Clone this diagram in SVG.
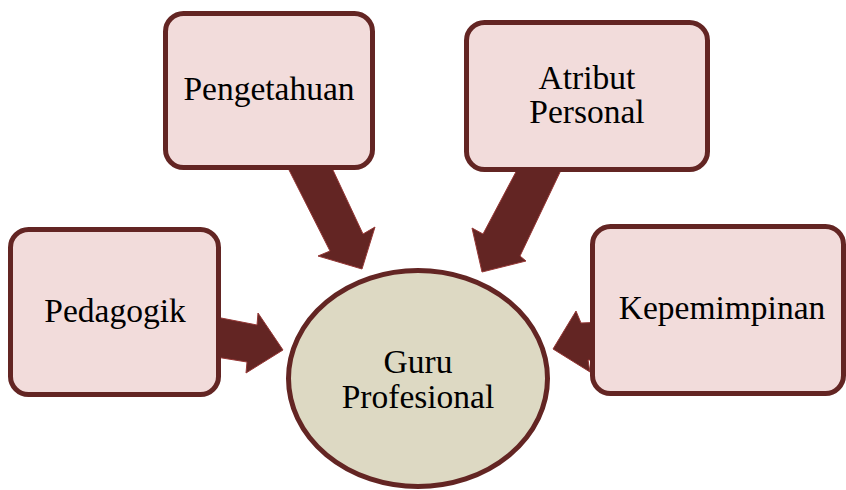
<svg xmlns="http://www.w3.org/2000/svg" width="846" height="490" viewBox="0 0 846 490">
<style>
.box{fill:#f2dcdb;stroke:#632523;stroke-width:5}
.ell{fill:#ddd9c3;stroke:#632523;stroke-width:5}
.arr{fill:#632523;stroke:#953735;stroke-width:1;stroke-linejoin:miter}
.t{font-family:"Liberation Serif","Times New Roman",serif;font-size:33.5px;fill:#000;text-anchor:middle}
</style>
<rect width="846" height="490" fill="#fff"/>
<g id="connectors">
<polygon class="arr" points="288,168 332,168 363,234 375,227 362,269 318,256 330,251"/>
<polygon class="arr" points="518,168 562,168 520,256 526,261 482,272 472,228 483,234"/>
<polygon class="arr" points="216,317 257,325 258,313 283,350 246,373 247,362 216,357"/>
<polygon class="arr" points="605,322 581,323 576,311 553,349 590,372 588,360 605,360"/>
</g>
<g id="pengetahuan">
<rect class="box" x="165.5" y="13.5" width="207" height="154" rx="18"/>
<text class="t" x="269" y="100">Pengetahuan</text>
</g>
<g id="atribut-personal">
<rect class="box" x="466.5" y="22.5" width="241" height="147" rx="18"/>
<text class="t" x="587" y="89">Atribut</text>
<text class="t" x="587" y="123">Personal</text>
</g>
<g id="pedagogik">
<rect class="box" x="10.5" y="229.5" width="208" height="165" rx="18"/>
<text class="t" x="115" y="322">Pedagogik</text>
</g>
<g id="kepemimpinan">
<rect class="box" x="592.5" y="226.5" width="251" height="167" rx="18"/>
<text class="t" x="722" y="319">Kepemimpinan</text>
</g>
<g id="guru-profesional">
<ellipse class="ell" cx="418" cy="378.5" rx="129.5" ry="108"/>
<text class="t" x="418" y="373">Guru</text>
<text class="t" x="418" y="408">Profesional</text>
</g>
</svg>
